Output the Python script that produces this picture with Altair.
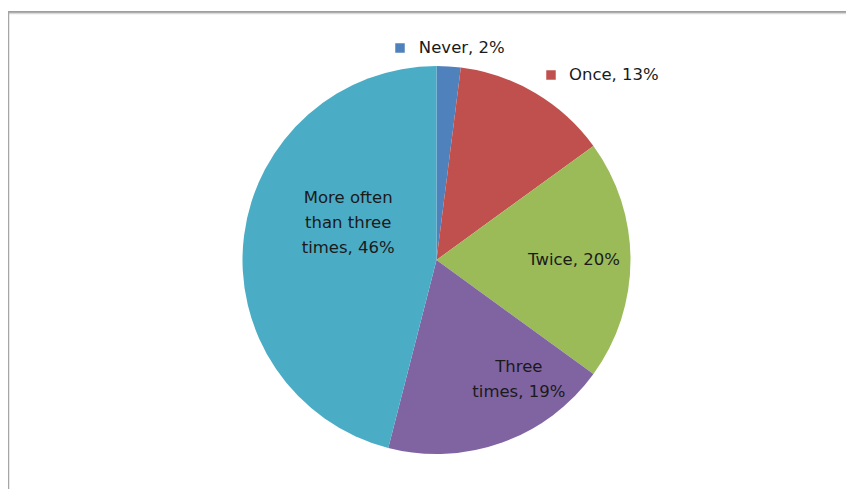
import altair as alt
import pandas as pd

categories = ["Never", "Once", "Twice", "Three times", "More often than three times"]
values = [2, 13, 20, 19, 46]
label_texts = ["Never, 2%", "Once, 13%", "Twice, 20%", "Three\ntimes, 19%", "More often\nthan three\ntimes, 46%"]
colors = ["#4F81BD", "#C0504D", "#9BBB59", "#8064A2", "#4BACC6"]

df = pd.DataFrame({
    "category": categories,
    "value": values,
    "label": label_texts,
    "order": list(range(len(categories))),
})

W, H = 838, 481
CX, CY = 428.5, 252
R = 194
FONT = "DejaVu Sans"
FS = 16.5
TXT = "#1a1a1a"

color_scale = alt.Scale(domain=categories, range=colors)

pie = alt.Chart(df).mark_arc(outerRadius=R, stroke=None).encode(
    theta=alt.Theta("value:Q", stack=True),
    order=alt.Order("order:Q"),
    color=alt.Color("category:N", scale=color_scale, legend=None),
    x=alt.value(CX),
    y=alt.value(CY),
)

angles = (
    alt.Chart(df)
    .transform_window(cum="sum(value)", sort=[alt.SortField("order")], frame=[None, 0])
    .transform_joinaggregate(total="sum(value)")
    .transform_calculate(mid="2*PI*(datum.cum - datum.value/2)/datum.total")
)


def label(cat, r, dx, dy, align):
    return angles.transform_filter(alt.datum.category == cat).mark_text(
        font=FONT, fontSize=FS, color=TXT, align=align, baseline="middle",
        lineBreak="\n", lineHeight=25, dx=dx, dy=dy,
    ).encode(
        theta=alt.Theta("mid:Q", scale=None),
        radius=alt.value(r),
        text="label:N",
        x=alt.value(CX),
        y=alt.value(CY),
    )


labels = [
    label("Never", 213, -31, 1, "left"),
    label("Once", 215, 23, 0, "left"),
    label("Twice", 137.5, 0, 0, "center"),
    label("Three times", 128, 39, -13, "center"),
    label("More often than three times", 89, 0, -51, "center"),
]

key_df = pd.DataFrame({"category": ["Never", "Once"], "kx": [392, 543], "ky": [40, 67]})
keys = alt.Chart(key_df).mark_square(size=90, opacity=1).encode(
    x=alt.X("kx:Q", scale=None),
    y=alt.Y("ky:Q", scale=None),
    color=alt.Color("category:N", scale=color_scale, legend=None),
)

frame_df = pd.DataFrame({"a": [0]})
top_line = alt.Chart(frame_df).mark_rule(color="#7f7f7f", strokeWidth=1.5).encode(
    x=alt.value(0), x2=alt.value(W), y=alt.value(4)
)
top_shadow = alt.Chart(frame_df).mark_rule(color="#d9d9d9", strokeWidth=1.5).encode(
    x=alt.value(0), x2=alt.value(W), y=alt.value(5.5)
)
left_line = alt.Chart(frame_df).mark_rule(color="#a6a6a6", strokeWidth=1.5).encode(
    x=alt.value(0.5), y=alt.value(4), y2=alt.value(H)
)

chart = alt.layer(top_line, top_shadow, left_line, pie, keys, *labels).properties(
    width=W, height=H, padding=0, autosize=alt.AutoSizeParams(type="none"),
    background="white",
).configure_view(stroke=None)

chart.save("out.html", embed_options={"renderer": "svg", "actions": False})
